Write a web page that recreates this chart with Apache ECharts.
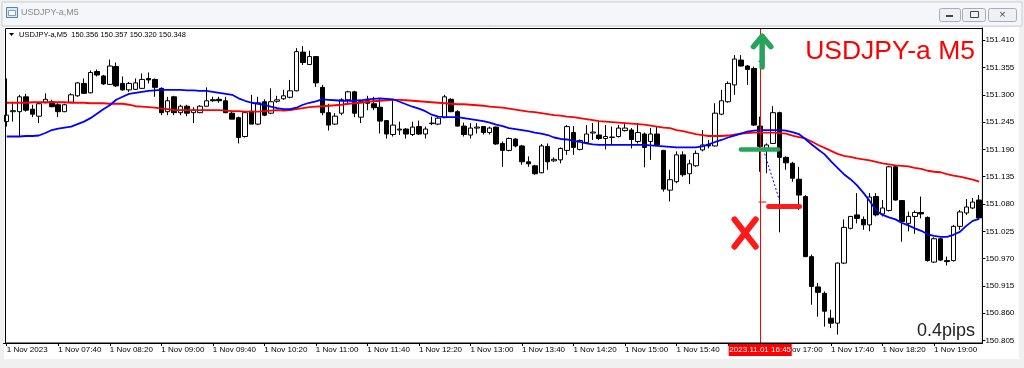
<!DOCTYPE html>
<html><head><meta charset="utf-8">
<script src="https://cdn.jsdelivr.net/npm/echarts@6/dist/echarts.min.js"></script>
<style>html,body{margin:0;padding:0;background:#f0f0f0;}#c{width:1024px;height:368px;}</style>
</head><body><div id="c"></div>
<script>
// ---- data ----
const times = [
'07:00','07:05','07:10','07:15','07:20','07:25','07:30','07:35','07:40','07:45','07:50','07:55',
'08:00','08:05','08:10','08:15','08:20','08:25','08:30','08:35','08:40','08:45','08:50','08:55',
'09:00','09:05','09:10','09:15','09:20','09:25','09:30','09:35','09:40','09:45','09:50','09:55',
'10:00','10:05','10:10','10:15','10:20','10:25','10:30','10:35','10:40','10:45','10:50','10:55',
'11:00','11:05','11:10','11:15','11:20','11:25','11:30','11:35','11:40','11:45','11:50','11:55',
'12:00','12:05','12:10','12:15','12:20','12:25','12:30','12:35','12:40','12:45','12:50','12:55',
'13:00','13:05','13:10','13:15','13:20','13:25','13:30','13:35','13:40','13:45','13:50','13:55',
'14:00','14:05','14:10','14:15','14:20','14:25','14:30','14:35','14:40','14:45','14:50','14:55',
'15:00','15:05','15:10','15:15','15:20','15:25','15:30','15:35','15:40','15:45','15:50','15:55',
'16:00','16:05','16:10','16:15','16:20','16:25','16:30','16:35','16:40','16:45','16:50','16:55',
'17:00','17:05','17:10','17:15','17:20','17:25','17:30','17:35','17:40','17:45','17:50','17:55',
'18:00','18:05','18:10','18:15','18:20','18:25','18:30','18:35','18:40','18:45','18:50','18:55',
'19:00','19:05','19:10','19:15','19:20','19:25','19:30','19:35'];

const opens = [
151.246,151.266,151.266,151.296,151.271,151.257,151.284,151.286,151.280,151.266,151.285,151.298,
151.323,151.304,151.347,151.338,151.321,151.357,151.323,151.310,151.311,151.313,151.333,151.331,
151.313,151.266,151.296,151.264,151.277,151.264,151.264,151.277,151.290,151.291,151.288,151.263,
151.254,151.216,151.267,151.241,151.286,151.263,151.287,151.292,151.295,151.308,151.386,151.361,
151.377,151.315,151.264,151.241,151.263,151.290,151.306,151.255,151.288,151.282,151.275,151.248,
151.220,151.229,151.231,151.220,151.236,151.221,151.242,151.241,151.254,151.291,151.266,151.237,
151.219,151.233,151.236,151.224,151.235,151.202,151.188,151.211,151.197,151.165,151.157,151.143,
151.196,151.167,151.169,151.188,151.224,151.190,151.204,151.223,151.219,151.212,151.214,151.216,
151.228,151.229,151.206,151.221,151.206,151.221,151.188,151.108,151.125,151.179,151.141,151.157,
151.189,151.200,151.197,151.261,151.286,151.320,151.370,151.358,151.353,151.237,151.192,151.202,
151.264,151.174,151.162,151.130,151.095,150.974,150.913,150.900,150.850,150.840,150.961,151.031,
151.058,151.049,151.038,151.095,151.060,151.067,151.155,151.087,151.041,151.055,151.063,151.053,
150.963,151.010,150.966,150.966,151.035,151.062,151.072,151.088];
const highs = [
151.333,151.286,151.300,151.302,151.280,151.284,151.303,151.290,151.283,151.282,151.303,151.326,
151.333,151.349,151.351,151.340,151.371,151.365,151.337,151.326,151.333,151.343,151.345,151.333,
151.315,151.296,151.298,151.280,151.280,151.275,151.279,151.315,151.296,151.296,151.296,151.266,
151.256,151.266,151.300,151.296,151.291,151.313,151.298,151.310,151.330,151.394,151.398,151.389,
151.378,151.320,151.282,151.263,151.293,151.308,151.308,151.288,151.298,151.296,151.293,151.249,
151.291,151.246,151.233,151.246,151.248,151.236,151.256,151.256,151.300,151.293,151.269,151.244,
151.243,151.243,151.237,151.236,151.236,151.206,151.214,151.212,151.199,151.176,151.159,151.201,
151.202,151.174,151.194,151.239,151.237,151.210,151.239,151.243,151.246,151.239,151.236,151.239,
151.243,151.233,151.243,151.224,151.233,151.237,151.189,151.149,151.186,151.186,151.169,151.188,
151.229,151.209,151.283,151.310,151.327,151.380,151.380,151.360,151.357,151.256,151.202,151.277,
151.266,151.176,151.165,151.155,151.098,150.978,150.921,150.904,150.867,150.962,151.049,151.056,
151.102,151.055,151.102,151.102,151.088,151.157,151.157,151.088,151.065,151.067,151.095,151.055,
151.013,151.012,150.974,151.038,151.068,151.090,151.092,151.098];
const lows = [
151.236,151.246,151.216,151.266,151.255,151.243,151.283,151.275,151.255,151.265,151.284,151.296,
151.302,151.303,151.337,151.320,151.320,151.316,151.308,151.306,151.310,151.312,151.323,151.296,
151.259,151.259,151.259,151.259,151.257,151.243,151.263,151.276,151.286,151.284,151.263,151.251,
151.202,151.214,151.241,151.239,151.257,151.261,151.284,151.290,151.293,151.307,151.360,151.360,
151.316,151.259,151.228,151.239,151.259,151.280,151.255,151.243,151.269,151.269,151.222,151.212,
151.216,151.219,151.212,151.217,151.219,151.212,151.239,151.239,151.253,151.265,151.236,151.216,
151.212,151.222,151.220,151.220,151.199,151.155,151.186,151.194,151.159,151.155,151.139,151.142,
151.149,151.165,151.162,151.179,151.179,151.188,151.202,151.209,151.209,151.190,151.199,151.214,
151.226,151.192,151.202,151.154,151.169,151.197,151.105,151.085,151.122,151.135,151.120,151.155,
151.186,151.192,151.196,151.259,151.284,151.300,151.357,151.320,151.237,151.145,151.142,151.201,
151.023,151.149,151.125,151.068,150.973,150.877,150.853,150.833,150.830,150.817,150.959,151.029,
151.041,151.028,151.025,151.055,151.055,151.065,151.087,151.004,151.025,151.020,151.051,150.964,
150.961,150.965,150.956,150.964,151.028,151.058,151.070,151.048];
const closes = [
151.259,151.268,151.296,151.269,151.261,151.282,151.291,151.276,151.266,151.280,151.300,151.324,
151.303,151.345,151.340,151.322,151.358,151.318,151.310,151.323,151.324,151.331,151.330,151.315,
151.264,151.288,151.264,151.277,151.263,151.269,151.277,151.288,151.288,151.288,151.264,151.251,
151.214,151.264,151.241,151.284,151.259,151.286,151.290,151.298,151.308,151.387,151.365,151.377,
151.324,151.264,151.239,151.257,151.290,151.306,151.263,151.286,151.283,151.274,151.247,151.221,
151.239,151.231,151.221,151.235,151.221,151.231,151.243,151.253,151.296,151.266,151.237,151.220,
151.233,151.235,151.224,151.233,151.201,151.188,151.212,151.197,151.165,151.161,151.141,151.197,
151.165,151.170,151.192,151.236,151.194,151.208,151.221,151.225,151.212,151.216,151.215,151.233,
151.233,151.210,151.224,151.194,151.221,151.199,151.110,151.129,151.179,151.139,151.161,151.182,
151.199,151.197,151.263,151.288,151.323,151.372,151.358,151.351,151.239,151.196,151.199,151.264,
151.174,151.163,151.132,151.098,150.974,150.914,150.902,150.864,150.840,150.961,151.033,151.055,
151.051,151.038,151.094,151.058,151.072,151.155,151.088,151.045,151.055,151.063,151.060,150.966,
151.010,150.967,150.964,151.035,151.064,151.074,151.084,151.052];

const maFast = [
151.216,151.216,151.216,151.217,151.217,151.218,151.223,151.229,151.232,151.234,151.236,151.241,
151.246,151.253,151.262,151.271,151.279,151.290,151.296,151.302,151.304,151.306,151.308,151.309,
151.310,151.310,151.310,151.310,151.309,151.309,151.308,151.308,151.306,151.304,151.302,151.300,
151.293,151.288,151.284,151.282,151.280,151.276,151.273,151.271,151.271,151.274,151.280,151.284,
151.287,151.291,151.290,151.289,151.288,151.288,151.288,151.289,151.291,151.292,151.293,151.292,
151.291,151.286,151.281,151.276,151.272,151.267,151.260,151.256,151.255,151.255,151.255,151.253,
151.251,151.249,151.247,151.244,151.240,151.237,151.233,151.231,151.229,151.227,151.224,151.222,
151.219,151.214,151.211,151.210,151.207,151.205,151.202,151.200,151.199,151.199,151.199,151.199,
151.199,151.199,151.199,151.199,151.198,151.197,151.196,151.195,151.194,151.194,151.194,151.194,
151.196,151.200,151.205,151.209,151.214,151.218,151.222,151.226,151.228,151.229,151.229,151.229,
151.229,151.228,151.225,151.221,151.211,151.200,151.190,151.180,151.166,151.153,151.140,151.130,
151.118,151.103,151.086,151.067,151.058,151.053,151.049,151.042,151.037,151.031,151.026,151.019,
151.016,151.014,151.014,151.018,151.024,151.036,151.046,151.050];
const maSlow = [
151.284,151.284,151.284,151.284,151.285,151.285,151.285,151.285,151.285,151.285,151.284,151.284,
151.284,151.283,151.283,151.283,151.282,151.282,151.282,151.280,151.277,151.276,151.275,151.274,
151.272,151.271,151.269,151.269,151.269,151.269,151.269,151.269,151.269,151.269,151.268,151.267,
151.267,151.266,151.266,151.266,151.267,151.268,151.269,151.268,151.269,151.271,151.273,151.275,
151.276,151.277,151.278,151.279,151.280,151.282,151.283,151.284,151.286,151.287,151.288,151.289,
151.290,151.290,151.289,151.288,151.287,151.286,151.285,151.284,151.283,151.282,151.281,151.281,
151.280,151.279,151.278,151.276,151.275,151.274,151.272,151.270,151.268,151.266,151.265,151.263,
151.261,151.259,151.258,151.256,151.255,151.253,151.251,151.249,151.247,151.246,151.245,151.244,
151.243,151.242,151.241,151.240,151.238,151.236,151.234,151.233,151.229,151.227,151.224,151.221,
151.219,151.217,151.217,151.217,151.218,151.220,151.222,151.223,151.224,151.224,151.224,151.224,
151.223,151.222,151.218,151.215,151.212,151.206,151.199,151.193,151.187,151.181,151.177,151.175,
151.172,151.170,151.168,151.165,151.162,151.160,151.158,151.157,151.156,151.153,151.151,151.147,
151.145,151.144,151.140,151.137,151.135,151.132,151.129,151.125];

const priceTicks = [150.805,150.860,150.915,150.970,151.025,151.080,151.135,151.190,151.245,151.300,151.355,151.410];
const cursorTime = '16:45';
const cursorLabel = '2023.11.01 16:45';
const headerText = 'USDJPY-a,M5  150.356 150.357 150.320 150.348';

// annotations in data coordinates [category index, price]
const arrowShaft = [[117.3,151.356],[117.3,151.417]];
const arrowHead = [[115.95,151.397],[117.3,151.418],[118.65,151.397]];
const greenBar = [[114.0,151.190],[119.8,151.190]];
const redBar = [[118.3,151.075],[123.1,151.075]];
const redX1 = [[113.0,151.049],[116.3,150.994]];
const redX2 = [[116.3,151.049],[113.0,150.994]];
const dotLine = [[117.5,151.189],[120.1,151.083]];
const dotTop = [[116.75,151.367],[117.5,151.372]];
const redTick = [[116.75,151.084],[117.9,151.084]];

const candleData = opens.map((o, i) => [o, closes[i], lows[i], highs[i]]);
const FONT = '"Liberation Sans", Arial, sans-serif';

const chart = echarts.init(document.getElementById('c'), null, {renderer: 'canvas'});
const option = {
  animation: false,
  backgroundColor: '#f0f0f0',
  grid: {left: 3.5, right: 41.6, top: 28, bottom: 25, show: false},
  xAxis: {
    type: 'category', data: times, boundaryGap: true,
    axisLine: {show: true, lineStyle: {color: '#000', width: 1}},
    axisTick: {show: true, alignWithLabel: true, length: 3, lineStyle: {color: '#000'},
      interval: (i) => i % 8 === 0},
    axisLabel: {
      interval: (i) => i % 8 === 0, align: 'left', margin: 3,
      fontFamily: FONT, fontSize: 8, color: '#000',
      formatter: (v, i) => i === 0 ? '1 Nov 2023' : '1 Nov ' + v
    },
    splitLine: {show: false}
  },
  yAxis: {
    type: 'value', position: 'right', min: 150.800, max: 151.4346, scale: true,
    axisLine: {show: true, lineStyle: {color: '#000', width: 1}},
    axisTick: {show: true, length: 3, customValues: priceTicks, lineStyle: {color: '#000'}},
    axisLabel: {customValues: priceTicks, formatter: (v) => v.toFixed(3), margin: 3,
      fontFamily: FONT, fontSize: 8, color: '#000'},
    splitLine: {show: false}
  },
  series: [
    {
      type: 'candlestick', data: candleData, barWidth: 5,
      itemStyle: {color: '#ffffff', color0: '#000000', borderColor: '#000000', borderColor0: '#000000', borderColorDoji: '#000000', borderWidth: 1},
      markLine: {silent: true, symbol: ['none', 'none'], label: {show: false},
        lineStyle: {color: '#ff0000', width: 1, type: 'solid'},
        data: [{xAxis: cursorTime}]}
    },
    {type: 'line', data: maSlow, showSymbol: false, lineStyle: {color: '#ff0000', width: 1.8}, z: 3},
    {type: 'line', data: maFast, showSymbol: false, lineStyle: {color: '#0000ff', width: 1.8}, z: 4}
  ]
};
chart.setOption(option);

// annotation overlay positioned through the chart's scales
const p0 = chart.convertToPixel({gridIndex: 0}, [0, 151]);
const p1 = chart.convertToPixel({gridIndex: 0}, [1, 151]);
const step = p1[0] - p0[0];
const X = (i) => p0[0] + i * step;
const Y = (v) => chart.convertToPixel({gridIndex: 0}, [0, v])[1];
const pts = (arr) => arr.map(d => [X(d[0]), Y(d[1])]);
const gridBottom = 343, frameRight = X(151.5);
const cx = X(times.indexOf(cursorTime));

const graphics = [
  // window chrome
  {type: 'rect', z: -10, shape: {x: 0, y: 0, width: 1024, height: 368}, style: {fill: '#f0f0f0'}, silent: true},
  {type: 'rect', z: -9, shape: {x: 2, y: 2, width: 1020, height: 24}, style: {fill: '#f4f6f9', stroke: '#c9ccd1'}, silent: true},
  {type: 'rect', z: -9, shape: {x: 4, y: 27, width: 1015, height: 332}, style: {fill: '#ffffff'}, silent: true},
  {type: 'rect', z: 50, shape: {x: 5.5, y: 28.5, width: frameRight - 5.5, height: 314.5}, style: {fill: 'none', stroke: '#000', lineWidth: 1}, silent: true},
  // title icon and text
  {type: 'rect', z: 50, shape: {x: 6.5, y: 7.5, width: 11, height: 10}, style: {fill: '#dbe7f5', stroke: '#5b7fb0', lineWidth: 1}},
  {type: 'rect', z: 50, shape: {x: 8.5, y: 10.5, width: 7, height: 5}, style: {fill: '#ffffff', stroke: '#7a9cc8', lineWidth: 1}},
  {type: 'text', z: 50, style: {x: 21, y: 13, text: 'USDJPY-a,M5', fontFamily: FONT, fontSize: 9, fill: '#8a8a8a', verticalAlign: 'middle'}},
  // window buttons
  {type: 'rect', z: 50, shape: {x: 939.5, y: 8.5, width: 21, height: 13, r: 2}, style: {fill: '#eef0f3', stroke: '#a8adb5'}},
  {type: 'rect', z: 50, shape: {x: 962.5, y: 8.5, width: 23, height: 13, r: 2}, style: {fill: '#eef0f3', stroke: '#a8adb5'}},
  {type: 'rect', z: 50, shape: {x: 988.5, y: 8.5, width: 28, height: 13, r: 2}, style: {fill: '#eef0f3', stroke: '#a8adb5'}},
  {type: 'rect', z: 51, shape: {x: 946, y: 15, width: 7, height: 2}, style: {fill: '#444'}},
  {type: 'rect', z: 51, shape: {x: 970.5, y: 11.5, width: 8, height: 6}, style: {fill: 'none', stroke: '#444'}},
  {type: 'text', z: 51, style: {x: 1002.5, y: 15, text: '×', fontFamily: FONT, fontSize: 11, fill: '#444', align: 'center', verticalAlign: 'middle'}},
  // header
  {type: 'polygon', z: 50, shape: {points: [[9, 33], [14, 33], [11.5, 36]]}, style: {fill: '#000'}},
  {type: 'text', z: 50, style: {x: 19, y: 35, text: headerText, fontFamily: FONT, fontSize: 7.5, fill: '#000', verticalAlign: 'middle'}},
  // big labels
  {type: 'text', z: 50, style: {x: 975, y: 52, text: 'USDJPY-a M5', fontFamily: FONT, fontSize: 26.5, fill: '#ff0000', align: 'right', verticalAlign: 'middle'}},
  {type: 'text', z: 50, style: {x: 975, y: 331, text: '0.4pips', fontFamily: FONT, fontSize: 18, fill: '#222', align: 'right', verticalAlign: 'middle'}},
  // annotations
  {type: 'polyline', z: 60, shape: {points: pts(arrowShaft)}, style: {stroke: '#27a35a', lineWidth: 5.5, lineCap: 'round'}},
  {type: 'polyline', z: 60, shape: {points: pts(arrowHead)}, style: {stroke: '#27a35a', lineWidth: 5.5, lineCap: 'round', lineJoin: 'round', fill: null}},
  {type: 'polyline', z: 60, shape: {points: pts(greenBar)}, style: {stroke: '#27a35a', lineWidth: 4.5, lineCap: 'round'}},
  {type: 'polyline', z: 60, shape: {points: pts(redBar)}, style: {stroke: '#ff1a1a', lineWidth: 5, lineCap: 'round'}},
  {type: 'polyline', z: 60, shape: {points: pts(redX1)}, style: {stroke: '#ff1a1a', lineWidth: 6, lineCap: 'round'}},
  {type: 'polyline', z: 60, shape: {points: pts(redX2)}, style: {stroke: '#ff1a1a', lineWidth: 6, lineCap: 'round'}},
  {type: 'polyline', z: 59, shape: {points: pts(dotLine)}, style: {stroke: '#0000ff', lineWidth: 1, lineDash: [2, 2]}},
  {type: 'polyline', z: 59, shape: {points: pts(dotTop)}, style: {stroke: '#0000ff', lineWidth: 1, lineDash: [2, 2]}},
  {type: 'polyline', z: 59, shape: {points: pts(redTick)}, style: {stroke: '#ff0000', lineWidth: 1}},
  // cursor time label on x axis
  {type: 'rect', z: 60, shape: {x: cx - 31.5, y: gridBottom + 1, width: 63, height: 12}, style: {fill: '#ff0000'}},
  {type: 'text', z: 61, style: {x: cx, y: gridBottom + 7, text: cursorLabel, fontFamily: FONT, fontSize: 8, fill: '#ffffff', align: 'center', verticalAlign: 'middle'}}
];
chart.setOption({graphic: graphics});
</script>
</body></html>
